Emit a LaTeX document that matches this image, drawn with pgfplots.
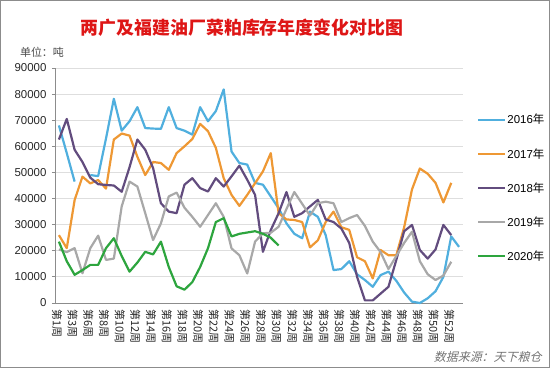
\documentclass[border=0pt]{standalone}
\usepackage{pgfplots}
\usepackage{pgfplotstable}
\pgfplotsset{compat=1.18}
\usepackage{fontspec}
\setmainfont{Liberation Sans}
\newfontfamily\cjk{Noto Sans CJK SC}
\newfontfamily\cjksl[FakeSlant=0.25]{Noto Sans CJK SC}
\definecolor{c16}{RGB}{80,175,222}
\definecolor{c17}{RGB}{238,152,52}
\definecolor{c18}{RGB}{98,76,126}
\definecolor{c19}{RGB}{168,168,168}
\definecolor{c20}{RGB}{45,165,62}
\definecolor{titlered}{RGB}{222,22,22}
\definecolor{gridc}{RGB}{222,222,222}
\definecolor{axc}{RGB}{140,140,140}

\pgfplotstableread{
x a16 a17 a18 a19 a20
0 68000 26000 62600 20500 23500
1 57400 21000 70500 19500 16000
2 46500 39400 58700 21000 10800
3 nan 48400 54000 11400 12600
4 49000 45800 48000 21000 14600
5 48600 47100 45500 25800 14600
6 63000 43800 45200 16500 21000
7 78200 62600 45000 17000 24800
8 66000 64900 42600 37000 18000
9 69600 64100 52000 46500 12000
10 75000 56000 62600 44600 15500
11 67000 49000 58700 34400 19600
12 66800 54000 51700 24100 18600
13 66700 53600 38200 30500 23500
14 75000 51000 35000 40800 13800
15 67000 57400 34400 42300 6400
16 66000 60000 45300 36500 5100
17 64500 62800 47800 33000 8000
18 75000 68600 44000 29200 13800
19 69600 65800 42700 33700 21000
20 73500 59400 47800 38200 31000
21 81800 47800 44600 33000 32500
22 58000 41400 48500 20900 25500
23 53600 37200 52600 18300 26500
24 53000 41400 47200 11300 27000
25 46000 45900 41400 23500 27500
26 45300 50400 19600 26700 26500
27 40800 57400 27900 26900 25000
28 36300 34400 34400 29200 22000
29 30500 32000 42500 36000 nan
30 26500 31800 33000 42500 nan
31 24800 31000 34400 38000 nan
32 35000 21300 37000 33500 nan
33 33000 24000 39500 38200 nan
34 26000 31000 32000 38800 nan
35 12600 35000 31000 38200 nan
36 13000 29000 28500 31000 nan
37 16000 28000 23000 32500 nan
38 11000 17500 10000 33700 nan
39 8800 16000 1000 29500 nan
40 6200 9400 1000 23500 nan
41 10700 20300 3600 19500 nan
42 12000 18300 6200 13000 nan
43 8500 18300 16500 18000 nan
44 4000 29000 27500 23000 nan
45 500 43500 29900 27300 nan
46 0 51500 20300 16000 nan
47 1800 49500 17000 11000 nan
48 4500 46000 20500 8800 nan
49 10000 38500 29900 10500 nan
50 25500 46000 26000 15800 nan
51 21500 nan nan nan nan
}\datatable

\begin{document}
\begin{tikzpicture}
\useasboundingbox (-55bp,-65bp) rectangle (495bp,303bp);
\draw[axc, line width=1bp] (-54.5bp,-64.5bp) rectangle (494.5bp,302.5bp);
\begin{axis}[
  scale only axis,
  width=408bp, height=235bp,
  xmin=-0.5, xmax=51.5,
  ymin=0, ymax=90000,
  clip=false,
  unbounded coords=jump,
  axis x line*=bottom,
  axis y line*=left,
  axis line style={axc, line width=0.8bp},
  ytick={0,10000,...,90000},
  ymajorgrids,
  grid style={gridc, line width=0.8bp},
  scaled y ticks=false,
  yticklabel style={/pgf/number format/fixed, /pgf/number format/1000 sep={}, /pgf/number format/assume math mode=true, font=\fontsize{11.5}{12}\selectfont, text=black!85, xshift=-2bp},
  y tick style={axc, line width=0.8bp},
  tick align=outside,
  major tick length=3bp,
  xtick={0,2,...,50},
  xticklabels={第1周,第3周,第6周,第8周,第10周,第12周,第14周,第16周,第18周,第20周,第22周,第24周,第26周,第28周,第30周,第32周,第34周,第36周,第38周,第40周,第42周,第44周,第46周,第48周,第50周,第52周},
  xticklabel style={rotate=-90, anchor=west, font=\cjk\fontsize{11}{11}\selectfont, text=black!85, yshift=-2bp},
  x tick style={draw=none},
  extra x ticks={-0.5,0.5,...,51.5},
  extra x tick labels={},
  extra x tick style={tick style={axc, line width=0.8bp, draw=axc}, major tick length=4bp},
  legend style={draw=none, fill=none, at={(1,0.489)}, anchor=west, xshift=14bp,
    font=\fontsize{11.5}{12}\selectfont, row sep=19bp, inner sep=0pt,
    nodes={inner xsep=1bp}},
  legend cell align=left,
  legend image code/.code={\draw[#1, line width=2.2bp] (0bp,0bp) -- (27bp,0bp);},
  every axis plot/.append style={line width=2.2bp, mark=none, line join=round},
]
\addplot[c16] table[x=x, y=a16] {\datatable};
\addlegendentry{2016\cjk 年}
\addplot[c17] table[x=x, y=a17] {\datatable};
\addlegendentry{2017\cjk 年}
\addplot[c18] table[x=x, y=a18] {\datatable};
\addlegendentry{2018\cjk 年}
\addplot[c19] table[x=x, y=a19] {\datatable};
\addlegendentry{2019\cjk 年}
\addplot[c20] table[x=x, y=a20] {\datatable};
\addlegendentry{2020\cjk 年}
\end{axis}
\node[text=titlered, font=\cjk\bfseries\fontsize{18}{18}\selectfont] at (187bp,275bp) {两广及福建油厂菜粕库存年度变化对比图};
\node[text=black!70, font=\cjk\fontsize{11}{11}\selectfont] at (-13bp,251bp) {单位：吨};
\node[text=black!55, anchor=east, font=\cjksl\fontsize{12}{12}\selectfont] at (490bp,-54bp) {数据来源：天下粮仓};
\end{tikzpicture}
\end{document}
